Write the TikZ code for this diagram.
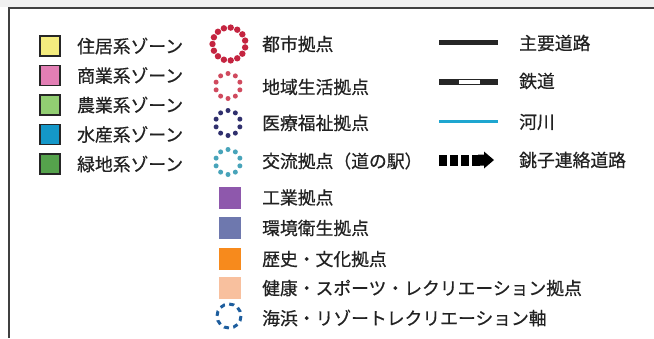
\documentclass[tikz,border=0pt]{standalone}
\usepackage{fontspec}
\newfontfamily\jp[FakeBold=0.6]{Noto Sans CJK JP}
\definecolor{cyel}{HTML}{F4EC7E}
\definecolor{cpink}{HTML}{E27EB4}
\definecolor{clgreen}{HTML}{92CE72}
\definecolor{ccyan}{HTML}{1497C8}
\definecolor{cgreen}{HTML}{55A24C}
\definecolor{ctoshi}{HTML}{C42440}
\definecolor{cchiiki}{HTML}{D04A5E}
\definecolor{ciryo}{HTML}{30306E}
\definecolor{ckoryu}{HTML}{48A4BA}
\definecolor{ckogyo}{HTML}{8E58AC}
\definecolor{ckankyo}{HTML}{6E78AE}
\definecolor{crekishi}{HTML}{F78A1C}
\definecolor{ckenko}{HTML}{F8C09E}
\definecolor{ckaihin}{HTML}{1E5E9E}
\definecolor{criver}{HTML}{1EA6D0}
\definecolor{ctext}{HTML}{222222}
\begin{document}
\begin{tikzpicture}[x=1pt,y=-1pt,
  lbl/.style={anchor=west,inner sep=0pt,text=ctext,font=\jp\fontsize{17.8}{19}\selectfont},
  zonebox/.style={draw=black!85,line width=1.6pt,minimum size=20pt,inner sep=0pt},
  ptbox/.style={minimum size=22pt,inner sep=0pt}]
\useasboundingbox (0,0) rectangle (654,338);
\fill[white] (0,0) rectangle (654,338);
\fill[black!6] (0,0) rectangle (654,7);
% frame
\draw[black!75,line width=2pt] (9,338) -- (9,8) -- (654,8);
% left column
\node[zonebox,fill=cyel] (z1) at (50,46) {};
\node[zonebox,fill=cpink] (z2) at (50,75.5) {};
\node[zonebox,fill=clgreen] (z3) at (50,105) {};
\node[zonebox,fill=ccyan] (z4) at (50,134.5) {};
\node[zonebox,fill=cgreen] (z5) at (50,164) {};
\node[lbl] (t1) at (77,46) {住居系ゾーン};
\node[lbl] (t2) at (77,75.5) {商業系ゾーン};
\node[lbl] (t3) at (77,105) {農業系ゾーン};
\node[lbl] (t4) at (77,134.5) {水産系ゾーン};
\node[lbl] (t5) at (77,164) {緑地系ゾーン};
% middle column rings
\coordinate (c1) at (229,44);
\coordinate (c2) at (228,86);
\coordinate (c3) at (228,123);
\coordinate (c4) at (228,162);
\foreach \a in {0,24,...,336} \fill[ctoshi] (c1) ++(\a+12:16.5) circle (3.2);
\foreach \a in {0,36,...,324} \fill[cchiiki] (c2) ++(\a+18:12.5) circle (2.5);
\foreach \a in {0,36,...,324} \fill[ciryo] (c3) ++(\a+18:12.5) circle (2.5);
\foreach \a in {0,36,...,324} \fill[ckoryu] (c4) ++(\a+18:12.5) circle (2.5);
\node[ptbox,fill=ckogyo] (p1) at (230,197.5) {};
\node[ptbox,fill=ckankyo] (p2) at (230,228) {};
\node[ptbox,fill=crekishi] (p3) at (230,259) {};
\node[ptbox,fill=ckenko] (p4) at (230,288) {};
\coordinate (c5) at (229,316);
\draw[ckaihin,line width=3pt,dash pattern=on 5pt off 4.4pt] (c5) circle (12);
\node[lbl] (m1) at (262,44) {都市拠点};
\node[lbl] (m2) at (262,87) {地域生活拠点};
\node[lbl] (m3) at (262,123) {医療福祉拠点};
\node[lbl] (m4) at (262,161) {交流拠点（道の駅）};
\node[lbl] (m5) at (262,197.5) {工業拠点};
\node[lbl] (m6) at (262,228) {環境衛生拠点};
\node[lbl] (m7) at (262,259) {歴史・文化拠点};
\node[lbl] (m8) at (262,288) {健康・スポーツ・レクリエーション拠点};
\node[lbl] (m9) at (262,318) {海浜・リゾートレクリエーション軸};
% right column
\draw[black!85,line width=5pt] (439,42.5) -- (498,42.5);
\fill[black!85] (439,79) rectangle (458,85);
\fill[black!85] (480,79) rectangle (498,85);
\draw[black!85,line width=0.7pt,fill=white] (458,79.4) rectangle (480,84.6);
\draw[criver,line width=3.5pt] (439,121.5) -- (498,121.5);
\foreach \x in {439,450,461,472} \fill[black] (\x,154.5) rectangle ++(7.5,11);
\fill[black] (478,154.5) -- (484,154.5) -- (484,151.5) -- (494,160) -- (484,168.5) -- (484,165.5) -- (478,165.5) -- cycle;
\node[lbl] (r1) at (519,43) {主要道路};
\node[lbl] (r2) at (519,81) {鉄道};
\node[lbl] (r3) at (519,122) {河川};
\node[lbl] (r4) at (519,160) {銚子連絡道路};
\end{tikzpicture}
\end{document}
